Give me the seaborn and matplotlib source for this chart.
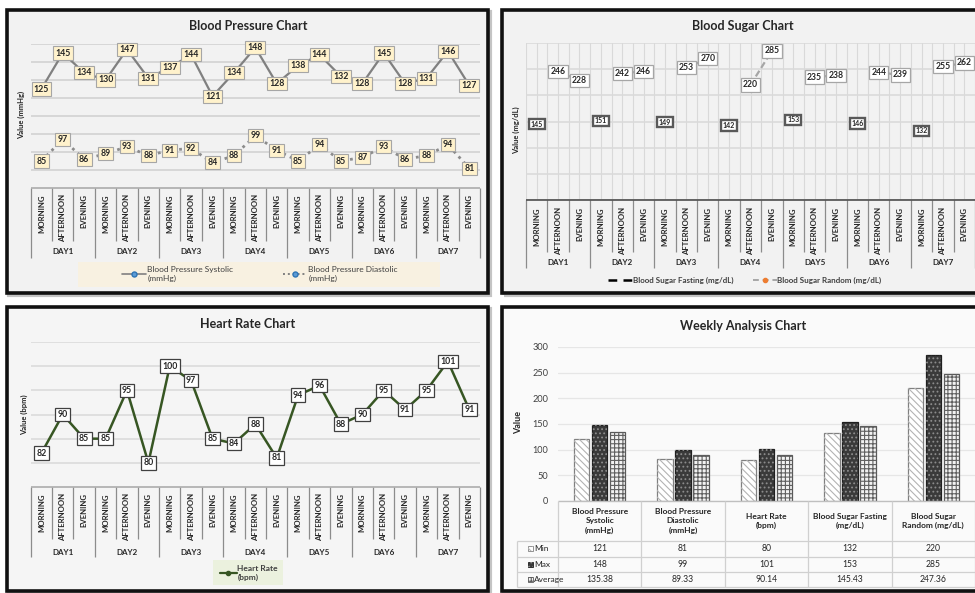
import numpy as np
import pandas as pd
import matplotlib
matplotlib.use("Agg")
import matplotlib.pyplot as plt
import seaborn as sns
from matplotlib.patches import Rectangle
from matplotlib.lines import Line2D

days = ["DAY1", "DAY2", "DAY3", "DAY4", "DAY5", "DAY6", "DAY7"]
times = ["MORNING", "AFTERNOON", "EVENING"]
systolic = [125, 145, 134, 130, 147, 131, 137, 144, 121, 134, 148, 128, 138, 144, 132, 128, 145, 128, 131, 146, 127]
diastolic = [85, 97, 86, 89, 93, 88, 91, 92, 84, 88, 99, 91, 85, 94, 85, 87, 93, 86, 88, 94, 81]
heart_rate = [82, 90, 85, 85, 95, 80, 100, 97, 85, 84, 88, 81, 94, 96, 88, 90, 95, 91, 95, 101, 91]
sugar_fasting = [145, 151, 149, 142, 153, 146, 132]
sugar_random = [246, 228, 242, 246, 253, 270, 220, 285, 235, 238, 244, 239, 255, 262]

metrics = ["Blood Pressure\nSystolic\n(mmHg)", "Blood Pressure\nDiastolic\n(mmHg)", "Heart Rate\n(bpm)",
           "Blood Sugar Fasting\n(mg/dL)", "Blood Sugar\nRandom (mg/dL)"]
stats = ["Min", "Max", "Average"]
min_vals = [121, 81, 80, 132, 220]
max_vals = [148, 99, 101, 153, 285]
avg_vals = [135.38, 89.33, 90.14, 145.43, 247.36]

sns.set_style("white")
plt.rcParams["font.family"] = ["Lato", "DejaVu Sans"]
plt.rcParams["hatch.linewidth"] = 0.8

W, H = 975, 593
fig = plt.figure(figsize=(W / 100, H / 100), dpi=100)


def box(x0, y0, x1, y1):
    return [x0 / W, 1 - y1 / H, (x1 - x0) / W, (y1 - y0) / H]


def fx(x):
    return x / W


def fy(y):
    return 1 - y / H


# panel frames
for x0, y0, x1, y1, bg in [(7, 10, 488, 293, "#f2f2f2"), (502, 10, 990, 293, "#f2f2f2"),
                           (7, 307, 488, 591, "#f5f5f5"), (502, 307, 990, 591, "#fafafa")]:
    fig.patches.append(Rectangle((fx(x0 + 2), fy(y1 + 2)), (x1 - x0) / W, (y1 - y0) / H,
                                 transform=fig.transFigure, facecolor="none", edgecolor="#c4c4c4", lw=3, zorder=-2))
    fig.patches.append(Rectangle((fx(x0), fy(y1)), (x1 - x0) / W, (y1 - y0) / H,
                                 transform=fig.transFigure, facecolor=bg, edgecolor="#111111", lw=2.6, zorder=-1))

slots = np.arange(21)
txt_col = "#262626"


def line_axes(rect):
    ax = fig.add_axes(box(*rect))
    ax.set_facecolor("none")
    return ax


def finish_axes(ax, ylim, yticks, grid_col, vgrid=False):
    ax.set_xlim(-0.5, 20.5)
    ax.set_ylim(*ylim)
    ax.set_yticks(yticks)
    if vgrid:
        ax.set_xticks(np.arange(-0.5, 20.6, 0.5))
        ax.xaxis.grid(True, color=grid_col, lw=0.8)
    else:
        ax.set_xticks([])
    ax.yaxis.grid(True, color=grid_col, lw=1.1)
    ax.set_axisbelow(True)
    ax.tick_params(left=False, bottom=False, labelleft=False, labelbottom=False)
    ax.set(xlabel="", ylabel="")
    for s in ax.spines.values():
        s.set_visible(False)


def category_band(rect, inner, text_top, day_y, top_col):
    cax = fig.add_axes(box(*rect))
    cax.set_xlim(-0.5, 20.5)
    cax.set_ylim(0, 1)
    cax.axis("off")
    bounds = np.arange(22) - 0.5
    lows = [0 if b % 3 == 0 else inner for b in range(22)]
    cax.vlines(bounds, lows, 1, color="#8c8c8c", lw=0.9, clip_on=False)
    cax.hlines(1, -0.5, 20.5, color=top_col, lw=1.1, clip_on=False)
    for i in slots:
        cax.text(i, text_top, times[i % 3], rotation=90, ha="center", va="top",
                 fontsize=5.6, fontweight="bold", color=txt_col)
    for d, day in enumerate(days):
        cax.text(3 * d + 1, day_y, day, ha="center", va="center", fontsize=5.8,
                 fontweight="bold", color=txt_col)


def add_labels(ax, xs, ys, fs, face, edge, lw):
    for x, y in zip(xs, ys):
        ax.text(x, y, str(y), ha="center", va="center", fontsize=fs, fontweight="bold", color=txt_col,
                bbox=dict(boxstyle="square,pad=0.25", fc=face, ec=edge, lw=lw), zorder=5)


# ---------------- Blood Pressure ----------------
ax1 = line_axes((30.7, 44, 480, 188))
sns.lineplot(x=slots, y=systolic, ax=ax1, color="#808080", lw=1.6)
sns.lineplot(x=slots, y=diastolic, ax=ax1, color="#8c8c8c", lw=2, linestyle=(0, (1, 1.6)))
finish_axes(ax1, (70, 150), range(80, 151, 10), "#cfcfcf")
add_labels(ax1, slots, systolic, 6.3, "#fff2cc", "#a6a6a6", 0.8)
add_labels(ax1, slots, diastolic, 6.3, "#fff2cc", "#a6a6a6", 0.8)
category_band((30.7, 188, 480, 258), 0.243, 0.914, 0.086, "#a6a6a6")
fig.text(fx(248), fy(26), "Blood Pressure Chart", ha="center", va="center", fontsize=9, fontweight="bold", color=txt_col)
fig.text(fx(21), fy(115), "Value (mmHg)", rotation=90, ha="center", va="center", fontsize=5.5, fontweight="bold", color=txt_col)
fig.patches.append(Rectangle((fx(78), fy(287)), 362 / W, 25 / H, transform=fig.transFigure,
                             facecolor="#f8f1e1", edgecolor="none", zorder=-0.5))
bp_handles = [Line2D([], [], color="#808080", lw=1.2, marker="o", ms=3.6, mfc="#5b9bd5", mec="#2e75b6"),
              Line2D([], [], color="#808080", lw=1.4, ls=(0, (1, 1.5)), marker="o", ms=3.6, mfc="#5b9bd5", mec="#2e75b6")]
fig.legend(bp_handles, ["Blood Pressure Systolic\n(mmHg)", "Blood Pressure Diastolic\n(mmHg)"],
           loc="center", bbox_to_anchor=(fx(260), fy(274)), bbox_transform=fig.transFigure, ncol=2,
           frameon=False, fontsize=6.0, handlelength=2.9, handletextpad=0.1, columnspacing=6.0,
           labelcolor="#404040")

# ---------------- Blood Sugar ----------------
ax2 = line_axes((526, 43, 975, 200))
fast_slots = [3 * d for d in range(7)]
rnd = pd.DataFrame({"slot": [3 * d + t for d in range(7) for t in (1, 2)],
                    "value": sugar_random,
                    "day": [d for d in range(7) for t in (1, 2)]})
sns.lineplot(data=rnd, x="slot", y="value", units="day", estimator=None, ax=ax2,
             color="#a6a6a6", lw=1.6, linestyle=(0, (3, 1.5)))
sns.scatterplot(x=fast_slots, y=sugar_fasting, ax=ax2, color="black", s=8, legend=False)
finish_axes(ax2, (0, 300), range(0, 301, 50), "#d9d9d9", vgrid=True)
add_labels(ax2, rnd["slot"], rnd["value"], 6.2, "white", "#a6a6a6", 0.9)
add_labels(ax2, fast_slots, sugar_fasting, 5.0, "white", "#595959", 1.7)
category_band((526, 200, 975, 268), 0.235, 0.897, 0.074, "#404040")
fig.text(fx(743), fy(26), "Blood Sugar Chart", ha="center", va="center", fontsize=9, fontweight="bold", color=txt_col)
fig.text(fx(516), fy(130), "Value (mg/dL)", rotation=90, ha="center", va="center", fontsize=5.5, fontweight="bold", color=txt_col)
bs_handles = [Line2D([], [], color="black", lw=1.8, ls=(0, (3.5, 2.5))),
              Line2D([], [], color="#a6a6a6", lw=1.4, ls=(0, (3, 2)), marker="o", ms=3, mfc="#ed7d31", mec="#ed7d31")]
fig.legend(bs_handles, ["Blood Sugar Fasting (mg/dL)", "Blood Sugar Random (mg/dL)"],
           loc="center", bbox_to_anchor=(fx(745), fy(280)), bbox_transform=fig.transFigure, ncol=2,
           frameon=False, handlelength=2.9, handletextpad=0.1, columnspacing=2.5,
           prop={"weight": "bold", "size": 5.8}, labelcolor="#404040")

# ---------------- Heart Rate ----------------
ax3 = line_axes((30.7, 342, 480, 487))
sns.lineplot(x=slots, y=heart_rate, ax=ax3, color="#375623", lw=1.8, marker="o", ms=3, mec="#375623")
finish_axes(ax3, (75, 105), range(80, 106, 5), "#d9d9d9")
add_labels(ax3, slots, heart_rate, 6.3, "white", "#404040", 0.9)
category_band((30.7, 487, 480, 557), 0.257, 0.914, 0.07, "#a6a6a6")
fig.text(fx(248), fy(324), "Heart Rate Chart", ha="center", va="center", fontsize=9, fontweight="bold", color=txt_col)
fig.text(fx(24), fy(415), "Value (bpm)", rotation=90, ha="center", va="center", fontsize=5.5, fontweight="bold", color=txt_col)
fig.patches.append(Rectangle((fx(213), fy(585)), 70 / W, 25 / H, transform=fig.transFigure,
                             facecolor="#ebf1de", edgecolor="none", zorder=-0.5))
fig.legend([Line2D([], [], color="#375623", lw=1.6, marker="o", ms=3)], ["Heart Rate\n(bpm)"],
           loc="center", bbox_to_anchor=(fx(249), fy(573)), bbox_transform=fig.transFigure,
           frameon=False, handlelength=2.0, handletextpad=0.1, prop={"weight": "bold", "size": 6.0},
           labelcolor="#404040")

# ---------------- Weekly Analysis ----------------
wk = pd.DataFrame({"metric": metrics * 3,
                   "stat": [s for s in stats for _ in metrics],
                   "value": min_vals + max_vals + avg_vals})
bar_face = {"Min": "#ffffff", "Max": "#3a3a3a", "Average": "#f2f2f2"}
bar_edge = {"Min": "#808080", "Max": "#1f1f1f", "Average": "#595959"}
bar_hatch = {"Min": "\\\\\\\\\\", "Max": "....", "Average": "++++"}
hatch_col = {"Min": "#b3b3b3", "Max": "#8c8c8c", "Average": "#5f5f5f"}

ax4 = fig.add_axes(box(558, 347, 975, 501))
ax4.set_facecolor("none")
sns.barplot(data=wk, x="metric", y="value", hue="stat", order=metrics, hue_order=stats,
            palette=bar_face, width=0.65, gap=0.15, legend=False, ax=ax4)
for cont, s in zip(ax4.containers, stats):
    for bar in cont:
        bar.set_edgecolor(bar_edge[s])
        bar.set_linewidth(0.9)
        ax4.add_patch(Rectangle(bar.get_xy(), bar.get_width(), bar.get_height(), fill=False,
                                hatch=bar_hatch[s], edgecolor=hatch_col[s], lw=0, zorder=3))
ax4.set_xlim(-0.5, 4.5)
ax4.set_ylim(0, 300)
ax4.set_yticks(range(0, 301, 50))
ax4.yaxis.grid(True, color="#e6e6e6", lw=0.9)
ax4.set_axisbelow(True)
ax4.tick_params(axis="y", length=0, labelsize=6.6, pad=7, labelcolor="#404040")
ax4.tick_params(axis="x", bottom=False, labelbottom=False)
ax4.set(xlabel="", ylabel="")
for s in ax4.spines.values():
    s.set_visible(False)
fig.text(fx(743), fy(326), "Weekly Analysis Chart", ha="center", va="center", fontsize=9, fontweight="bold", color=txt_col)
fig.text(fx(519), fy(423), "Value", rotation=90, ha="center", va="center", fontsize=6.5, fontweight="bold", color=txt_col)

# data table under the bars
left = -0.5 - 41 / 83.4
tax = fig.add_axes(box(517, 501, 975, 587))
tax.set_xlim(left, 4.5)
tax.set_ylim(86, 0)
tax.axis("off")
grid_c = "#d0d0d0"
tax.hlines(0, -0.5, 4.5, color="#bfbfbf", lw=1, clip_on=False)
tax.hlines([40, 55.5, 71, 86], left, 4.5, color=grid_c, lw=0.9, clip_on=False)
tax.vlines(np.arange(6) - 0.5, 0, 86, color=grid_c, lw=0.9, clip_on=False)
tax.vlines(left, 40, 86, color=grid_c, lw=0.9, clip_on=False)
for i, m in enumerate(metrics):
    tax.text(i, 20, m, ha="center", va="center", multialignment="center", fontsize=6.0,
             fontweight="bold", color=txt_col, linespacing=1.45)
row_y = [47.75, 63.25, 78.5]
for s, vals, y in zip(stats, [min_vals, max_vals, avg_vals], row_y):
    tax.add_patch(Rectangle((left + 11 / 83.4, y - 2.5), 4.6 / 83.4, 5.0, facecolor=bar_face[s],
                            edgecolor=bar_edge[s], lw=0.6, clip_on=False))
    tax.add_patch(Rectangle((left + 11 / 83.4, y - 2.5), 4.6 / 83.4, 5.0, fill=False,
                            hatch=bar_hatch[s], edgecolor=hatch_col[s], lw=0, clip_on=False))
    tax.text(left + 17 / 83.4, y, s, ha="left", va="center", fontsize=6.0, color=txt_col)
    for i, v in enumerate(vals):
        tax.text(i, y, str(v), ha="center", va="center", fontsize=6.2, color=txt_col)

fig.savefig("out.png", dpi=100, facecolor="white")
